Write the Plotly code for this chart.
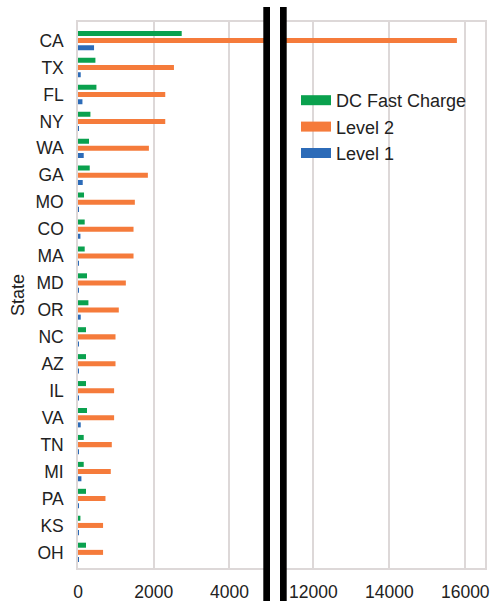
import plotly.graph_objects as go

states = ["CA", "TX", "FL", "NY", "WA", "GA", "MO", "CO", "MA", "MD",
          "OR", "NC", "AZ", "IL", "VA", "TN", "MI", "PA", "KS", "OH"]
dc_fast = [2740, 460, 487, 328, 291, 310, 159, 177, 177, 238,
           275, 212, 212, 212, 238, 151, 151, 212, 64, 212]
level2 = [15780, 2535, 2305, 2305, 1873, 1846, 1502, 1467, 1467, 1264,
          1078, 991, 991, 954, 954, 893, 866, 726, 662, 662]
level1 = [424, 72, 117, 10, 151, 125, 10, 64, 15, 20,
          72, 10, 10, 8, 72, 10, 90, 8, 5, 8]
left_ticks = [0, 2000, 4000]
right_ticks = [12000, 14000, 16000]

series = [("DC Fast Charge", dc_fast, "#0aa14e"),
          ("Level 2", level2, "#f57b3b"),
          ("Level 1", level1, "#2c6bb8")]

W, H = 490, 601
ML, MR, MT, MB = 78, 5, 22, 33
pw = W - ML - MR
ph = H - MT - MB

def px_x(p):
    return (p - ML) / pw

def px_y(p):
    return 1 - (p - MT) / ph

fig = go.Figure()
for name, vals, col in series:
    for xa, ya in (("x", "y"), ("x2", "y2")):
        fig.add_trace(go.Bar(y=states, x=vals, orientation="h", name=name,
                             marker=dict(color=col, line=dict(width=0)),
                             xaxis=xa, yaxis=ya, showlegend=False))
# legend entries with wide swatches
for name, vals, col in series:
    fig.add_trace(go.Scatter(x=[None], y=[None], mode="lines", name=name,
                             line=dict(color=col, width=12), xaxis="x", yaxis="y",
                             showlegend=True))

grid = "#ddd8d8"
tickfont = dict(family="Liberation Sans, Arial, sans-serif", size=17.5, color="#222")

fig.update_layout(
    width=W, height=H,
    margin=dict(l=ML, r=MR, t=MT, b=MB, autoexpand=False),
    paper_bgcolor="white", plot_bgcolor="white",
    barmode="group", bargap=0.2, bargroupgap=0.3,
    font=dict(family="Liberation Sans, Arial, sans-serif", color="#222"),
    xaxis=dict(domain=[0, px_x(266.5)], range=[0, 4980], tickvals=left_ticks,
               tickformat="d",
               showgrid=True, gridcolor=grid, gridwidth=1.5, zeroline=False,
               showline=True, linecolor=grid, linewidth=1.5, mirror=True,
               ticks="", tickfont=tickfont, anchor="y", automargin=False,
               ticklabelstandoff=7),
    xaxis2=dict(domain=[px_x(283), 1], range=[11200, 16520], tickvals=right_ticks,
                tickformat="d",
                showgrid=True, gridcolor=grid, gridwidth=1.5, zeroline=False,
                showline=True, linecolor=grid, linewidth=1.5, mirror=True,
                ticks="", tickfont=tickfont, anchor="y2", automargin=False,
                ticklabelstandoff=7),
    yaxis=dict(range=[19.58, -0.69], anchor="x", showgrid=False, zeroline=False,
               showline=True, linecolor=grid, linewidth=1.5, mirror=True,
               ticks="", tickfont=tickfont, ticklabelstandoff=9, automargin=False,
               title=dict(text="State", font=dict(size=18, color="#222"), standoff=6)),
    yaxis2=dict(matches="y", range=[19.58, -0.69], anchor="x2", showgrid=False,
                zeroline=False, showticklabels=False, automargin=False,
                showline=True, linecolor=grid, linewidth=1.5, mirror=True, ticks=""),
    legend=dict(x=px_x(296), y=px_y(82), xanchor="left", yanchor="top",
                bgcolor="rgba(0,0,0,0)", borderwidth=0,
                font=dict(size=18, color="#222"), traceorder="normal"),
    showlegend=True,
)

# axis-break markers
for x0, x1 in ((263.3, 270.0), (280.0, 286.7)):
    fig.add_shape(type="rect", xref="paper", yref="paper",
                  x0=px_x(x0), x1=px_x(x1), y0=px_y(603), y1=px_y(7),
                  fillcolor="#000", line=dict(width=0), layer="above")

fig.write_html("out.html", config={"displayModeBar": False},
               post_script="document.body.style.margin='0';document.body.style.overflow='hidden';")
